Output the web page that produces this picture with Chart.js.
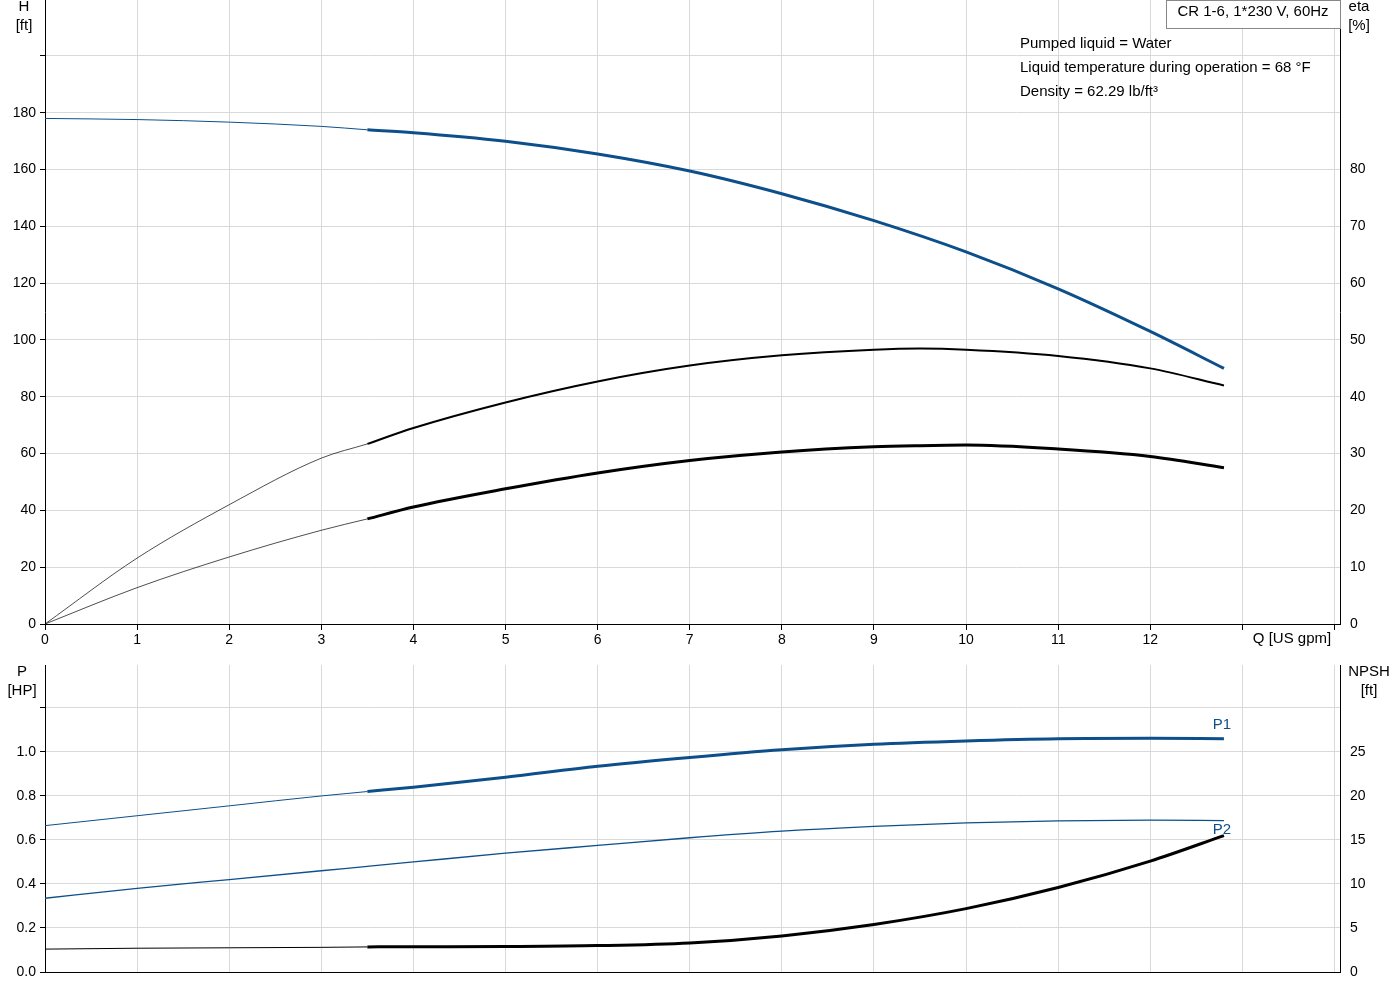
<!DOCTYPE html><html><head><script src="https://cdn.jsdelivr.net/npm/chart.js@4"></script>
<style>body{margin:0;background:#fff}canvas{position:absolute;left:0}</style></head><body>
<div style="position:absolute;left:0;top:0;width:1400px;height:660px"><canvas id="c1"></canvas></div>
<div style="position:absolute;left:0;top:660px;width:1400px;height:340px"><canvas id="c2"></canvas></div>
<script>
const qH=[0,1,2,3,3.5,4,5,6,7,8,9,10,11,12,12.8];
const head=[178,177.6,176.7,175.2,174,173,170,165.5,159.5,151.5,142,131,118,103,90];
const qE=[0,1,2,3,3.5,4,5,6,7,8,9,9.5,10,11,12,12.8];
const etaPump=[0,11.6,21,29.2,31.7,34.5,39,42.7,45.5,47.3,48.3,48.5,48.3,47.2,45,42];
const etaTotal=[0,6.4,11.8,16.5,18.5,20.6,23.8,26.6,28.8,30.3,31.2,31.4,31.5,30.8,29.5,27.5];
const qP=[0,1,2,3,3.5,4,5,6,7,8,9,10,11,12,12.8];
const p1=[0.665,0.71,0.755,0.8,0.82,0.84,0.885,0.935,0.975,1.01,1.035,1.05,1.06,1.062,1.06];
const p2=[0.335,0.38,0.42,0.46,0.48,0.5,0.54,0.575,0.61,0.64,0.662,0.678,0.687,0.69,0.688];
const npsh=[2.6,2.7,2.75,2.8,2.85,2.87,2.9,3.0,3.3,4.1,5.4,7.2,9.6,12.6,15.5];
const F='"Liberation Sans", Arial, sans-serif';
const blue='#0d4f8b';
function pts(xs,ys,lo,hi){return xs.map((x,i)=>({x,y:ys[i]})).filter(p=>p.x>=lo&&p.x<=hi);}
function ds(xs,ys,axis,color,w,lo,hi){return {data:pts(xs,ys,lo,hi),yAxisID:axis,borderColor:color,borderWidth:w,pointRadius:0,cubicInterpolationMode:'monotone',fill:false};}
const grid={color:'#d9d9d9',lineWidth:1};
function nopad(a){a.paddingTop=0;a.paddingBottom=0;}
function xScale(showLabels){return {type:'linear',min:0,max:14.06,afterBuildTicks:a=>{a.ticks=[];for(let i=0;i<=14;i++)a.ticks.push({value:i});},
 ticks:{display:showLabels,color:'#000',font:{family:F,size:14},padding:2,callback:v=>v<=12?String(v):''},
 grid:{...grid,tickLength:showLabels?6:0,tickColor:'#000'},border:{color:'#000',width:1},afterFit:a=>{a.height=showLabels?36:28;a.paddingLeft=0;a.paddingRight=0;}};}
const textPlugin={id:'txt',afterDraw(c){const o=c.options.plugins.txt;if(!o)return;const x=c.ctx;x.save();x.font='15px '+F;
 o.items.forEach(t=>{x.fillStyle=t.c||'#000';x.textAlign=t.a||'left';x.textBaseline='middle';x.fillText(t.s,t.x,t.y);});
 if(o.box){x.strokeStyle='#888';x.lineWidth=1;x.fillStyle='#fff';x.fillRect(1166,0,174,28);x.strokeRect(1166.5,0.5,174,28);x.fillStyle='#000';x.textAlign='center';x.fillText('CR 1-6, 1*230 V, 60Hz',1253,12);}
 x.restore();}};
Chart.register(textPlugin);
new Chart(document.getElementById('c1'),{type:'line',data:{datasets:[
 ds(qH,head,'y',blue,1,0,3.5),ds(qH,head,'y',blue,3,3.5,12.8),
 ds(qE,etaPump,'y2','#000',0.7,0,3.5),ds(qE,etaPump,'y2','#000',2,3.5,12.8),
 ds(qE,etaTotal,'y2','#000',0.7,0,3.5),ds(qE,etaTotal,'y2','#000',3,3.5,12.8)]},
 options:{animation:false,responsive:true,maintainAspectRatio:false,layout:{padding:{top:0,right:0}},
 plugins:{legend:{display:false},tooltip:{enabled:false},txt:{box:true,items:[
  {s:'H',x:24,y:7,a:'center'},{s:'[ft]',x:24,y:26,a:'center'},{s:'eta',x:1359,y:7,a:'center'},{s:'[%]',x:1359,y:26,a:'center'},
  {s:'Pumped liquid = Water',x:1020,y:44},{s:'Liquid temperature during operation = 68 °F',x:1020,y:68},{s:'Density = 62.29 lb/ft³',x:1020,y:92},
  {s:'Q [US gpm]',x:1292,y:639,a:'center'}]}},
 scales:{x:xScale(true),
  y:{min:0,max:219.7,afterBuildTicks:a=>{a.ticks=[];for(let i=0;i<=200;i+=20)a.ticks.push({value:i});},ticks:{color:'#000',font:{family:F,size:14},padding:4,callback:v=>v<=180?String(v):''},grid:{...grid,tickLength:5,tickColor:'#000'},border:{color:'#000'},afterFit:a=>{a.width=45;nopad(a);}},
  y2:{position:'right',min:0,max:109.85,afterBuildTicks:a=>{a.ticks=[];for(let i=0;i<=80;i+=10)a.ticks.push({value:i});},ticks:{color:'#000',font:{family:F,size:14},padding:4},grid:{display:false,tickLength:6},border:{color:'#000'},afterFit:a=>{a.width=60;nopad(a);}}}}});
new Chart(document.getElementById('c2'),{type:'line',data:{datasets:[
 ds(qP,p1,'y',blue,1,0,3.5),ds(qP,p1,'y',blue,3,3.5,12.8),
 ds(qP,p2,'y',blue,1.3,0,12.8),
 ds(qP,npsh,'y2','#000',1,0,3.5),ds(qP,npsh,'y2','#000',3,3.5,12.8)]},
 options:{animation:false,responsive:true,maintainAspectRatio:false,layout:{padding:{top:5}},
 plugins:{legend:{display:false},tooltip:{enabled:false},txt:{items:[
  {s:'P',x:22,y:12,a:'center'},{s:'[HP]',x:22,y:31,a:'center'},{s:'NPSH',x:1369,y:12,a:'center'},{s:'[ft]',x:1369,y:31,a:'center'},
  {s:'P1',x:1222,y:65,a:'center',c:blue},{s:'P2',x:1222,y:170,a:'center',c:blue}]}},
 scales:{x:xScale(false),
  y:{min:0,max:1.395,afterBuildTicks:a=>{a.ticks=[];for(let i=0;i<=6;i++)a.ticks.push({value:i*0.2});},ticks:{color:'#000',font:{family:F,size:14},padding:4,callback:v=>v<=1.01?v.toFixed(1):''},grid:{...grid,tickLength:5,tickColor:'#000'},border:{color:'#000'},afterFit:a=>{a.width=45;nopad(a);}},
  y2:{position:'right',min:0,max:34.875,afterBuildTicks:a=>{a.ticks=[];for(let i=0;i<=30;i+=5)a.ticks.push({value:i});},ticks:{color:'#000',font:{family:F,size:14},padding:4,callback:v=>v<=25?String(v):''},grid:{display:false,tickLength:6},border:{color:'#000'},afterFit:a=>{a.width=60;nopad(a);}}}}});
</script></body></html>
